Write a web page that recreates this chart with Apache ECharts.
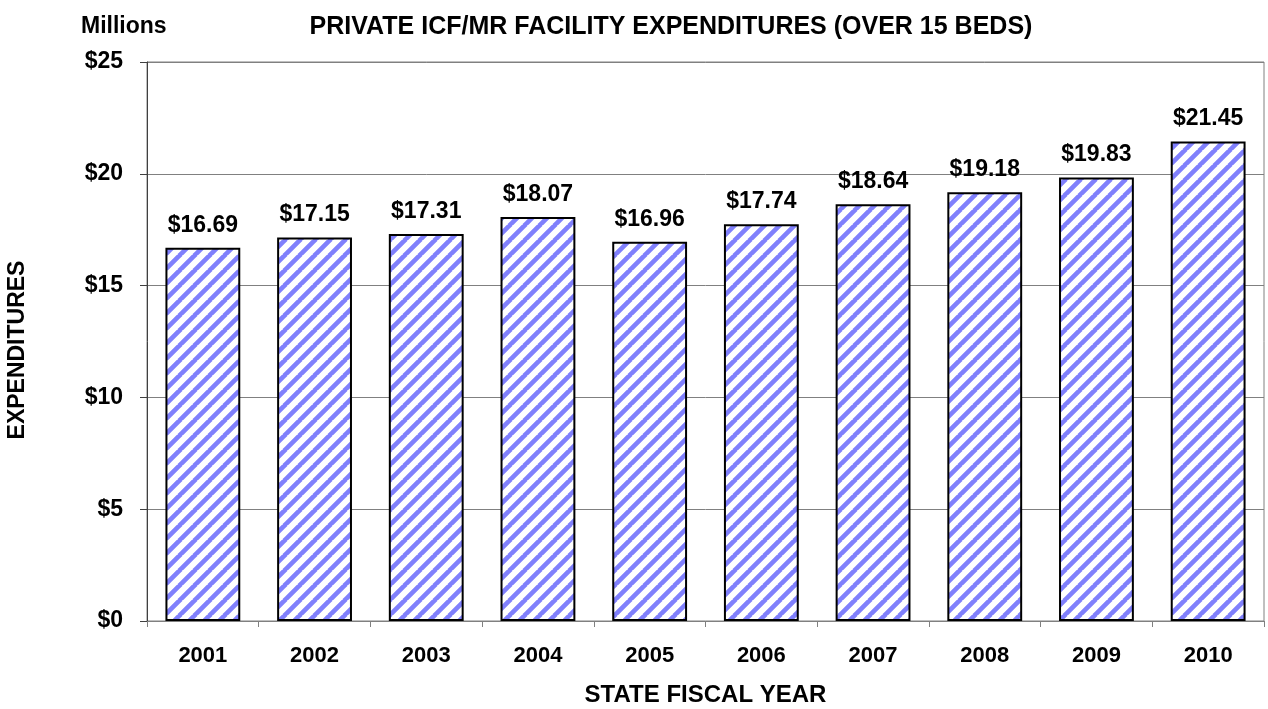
<!DOCTYPE html>
<html>
<head>
<meta charset="utf-8">
<script src="https://cdn.jsdelivr.net/npm/echarts@6/dist/echarts.min.js"></script>
<style>
  html, body { margin: 0; padding: 0; background: #ffffff; }
  #chart { width: 1268px; height: 709px; }
</style>
</head>
<body>
<div id="chart"></div>
<script>
// Fiscal years and expenditures (millions of dollars)
const years = ['2001', '2002', '2003', '2004', '2005', '2006', '2007', '2008', '2009', '2010'];
const expenditures = [16.69, 17.15, 17.31, 18.07, 16.96, 17.74, 18.64, 19.18, 19.83, 21.45];
const yTicks = [0, 5, 10, 15, 20, 25];

const FONT = '"Liberation Sans", Arial, sans-serif';

// Diagonal hatch fill for the bars
function makeHatch() {
  const p = 15;
  const c = document.createElement('canvas');
  c.width = p; c.height = p;
  const g = c.getContext('2d');
  g.fillStyle = '#ffffff';
  g.fillRect(0, 0, p, p);
  g.strokeStyle = '#8080fc';
  g.lineWidth = 4.6;
  g.beginPath();
  for (let k = -1; k <= 1; k++) {
    g.moveTo(k * p - 1, p + 1);
    g.lineTo(k * p + p + 1, -1);
  }
  g.stroke();
  return c;
}

const chart = echarts.init(document.getElementById('chart'), null, { renderer: 'canvas' });

chart.setOption({
  animation: false,
  backgroundColor: '#ffffff',
  textStyle: { fontFamily: FONT },
  title: [
    {
      text: 'PRIVATE ICF/MR FACILITY EXPENDITURES (OVER 15 BEDS)',
      left: 666, top: 10, textAlign: 'center',
      textStyle: { fontFamily: FONT, fontSize: 25, fontWeight: 'bold', color: '#000' }
    },
    {
      text: 'Millions',
      left: 76, top: 10,
      textStyle: { fontFamily: FONT, fontSize: 23, fontWeight: 'bold', color: '#000' }
    }
  ],
  graphic: [{
    // vertical axis title
    type: 'text',
    x: 18, y: 350,
    rotation: Math.PI / 2,
    style: {
      text: 'EXPENDITURES',
      font: 'bold 23px ' + FONT,
      fill: '#000',
      align: 'center',
      verticalAlign: 'middle'
    }
  }],
  grid: {
    left: 147, right: 4, top: 62, bottom: 88,
    containLabel: false,
    outerBoundsMode: 'none',
    show: true, borderColor: '#808080', borderWidth: 1
  },
  xAxis: {
    type: 'category',
    data: years,
    name: 'STATE FISCAL YEAR',
    nameLocation: 'middle',
    nameGap: 62,
    nameTextStyle: { fontFamily: FONT, fontSize: 24, fontWeight: 'bold', color: '#000' },
    axisLine: { lineStyle: { color: '#808080', width: 1 } },
    axisTick: { show: true, length: 6, alignWithLabel: false, lineStyle: { color: '#808080' } },
    axisLabel: { margin: 24, fontFamily: FONT, fontSize: 22, fontWeight: 'bold', color: '#000' }
  },
  yAxis: {
    type: 'value',
    min: yTicks[0],
    max: yTicks[yTicks.length - 1],
    interval: yTicks[1] - yTicks[0],
    axisLine: { show: true, lineStyle: { color: '#404040', width: 1 } },
    axisTick: { show: true, length: 7, lineStyle: { color: '#404040' } },
    splitLine: { show: true, lineStyle: { color: '#808080', width: 1 } },
    axisLabel: {
      margin: 24, fontFamily: FONT, fontSize: 23, fontWeight: 'bold', color: '#000',
      formatter: v => '$' + v
    }
  },
  series: [{
    type: 'bar',
    data: expenditures,
    barWidth: '67%',
    itemStyle: {
      color: { image: makeHatch(), repeat: 'repeat' },
      borderColor: '#000',
      borderWidth: 2
    },
    label: {
      show: true,
      position: 'top',
      distance: 11,
      fontFamily: FONT, fontSize: 23, fontWeight: 'bold', color: '#000',
      formatter: p => '$' + p.value.toFixed(2)
    }
  }]
});
</script>
</body>
</html>
